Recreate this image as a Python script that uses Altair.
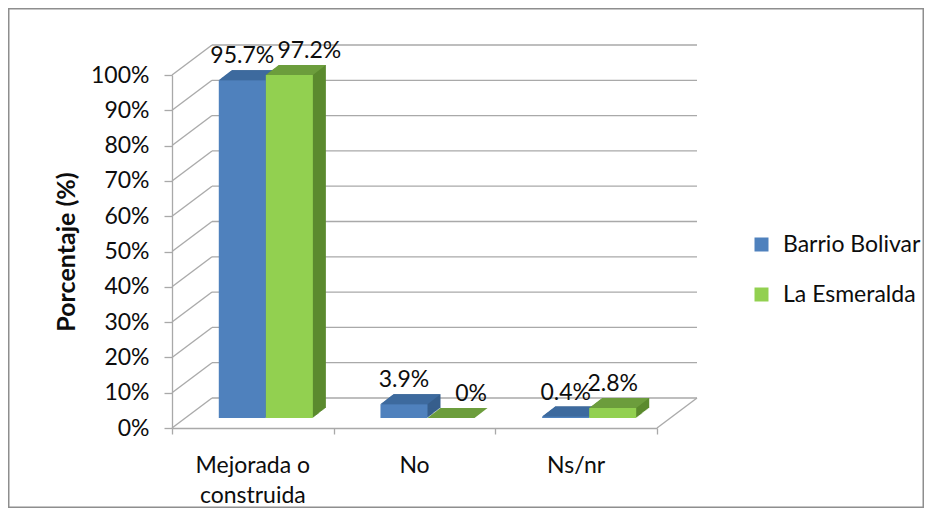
import altair as alt
import pandas as pd

# ---------------- data ----------------
categories = ["Mejorada o construida", "No", "Ns/nr"]
category_labels = ["Mejorada o\nconstruida", "No", "Ns/nr"]
series_names = ["Barrio Bolivar", "La Esmeralda"]
barrio_bolivar = [95.7, 3.9, 0.4]
la_esmeralda = [97.2, 0.0, 2.8]
y_ticks = [0, 10, 20, 30, 40, 50, 60, 70, 80, 90, 100]

rows = []
for i, cat in enumerate(categories):
    for j, vals in enumerate([barrio_bolivar, la_esmeralda]):
        v = vals[i]
        rows.append({"cat": cat, "idx": i, "series": series_names[j], "sidx": j,
                     "value": v, "label": f"{v:g}%"})
df = pd.DataFrame(rows)
grid_df = pd.DataFrame({"v": y_ticks})
cat_df = pd.DataFrame({"idx": list(range(len(categories))), "lab": category_labels})

# ---------------- style ----------------
FONT = "Lato"
FS = 23
TXT = "#0d0d0d"
GRID = "#a9a9a9"
W, H = 485, 353
DX, DY = 40, 30          # wall depth
BX, BY = 13, 10          # bar front offset and bar depth
GAP, BW = 0.209, 0.291   # fraction of category
BWPX = BW * W / 3

FRONT = {0: "#4F81BD", 1: "#92D050"}
TOP = {0: "#3D6A9E", 1: "#6C9D3C"}
SIDE = {0: "#365E8C", 1: "#5B8A2E"}

xs = alt.Scale(domain=[0, 3], nice=False, zero=False)
ys = alt.Scale(domain=[0, 100], nice=False)
cs = alt.Scale(domain=series_names, range=[FRONT[0], FRONT[1]])

x_axis = alt.Axis(values=[0, 1, 2, 3], labels=False, title=None, grid=False,
                  tickSize=6, tickColor=GRID, domainColor=GRID, domainWidth=1.3,
                  tickWidth=1.3)
y_axis = alt.Axis(values=y_ticks, labelExpr="datum.value + '%'", grid=False,
                  tickSize=8, tickColor=GRID, domainColor=GRID, domainWidth=1.3,
                  tickWidth=1.3, labelPadding=15, labelFont=FONT, labelFontSize=FS,
                  labelColor=TXT, title="Porcentaje (%)", titleFont=FONT,
                  titleFontSize=25, titleFontWeight="bold", titleColor=TXT,
                  titleX=-106, titleY=H / 2, titleAngle=-90, titleAlign="center",
                  titleBaseline="middle")

legend = alt.Legend(title=None, orient="none", legendX=578, legendY=158,
                    symbolType="square", symbolSize=196, symbolStrokeWidth=0,
                    labelFont=FONT, labelFontSize=FS, labelColor=TXT,
                    rowPadding=26, labelOffset=10, padding=0)

base = alt.Chart(df).transform_calculate(
    x1=f"datum.idx + {GAP} + {BW} * datum.sidx",
    x2=f"datum.idx + {GAP} + {BW} * (datum.sidx + 1)",
    xc=f"datum.idx + {GAP} + {BW} * (datum.sidx + 0.5)",
)


def X(field):
    return alt.X(field, scale=xs, axis=x_axis)


def Y(field):
    return alt.Y(field, scale=ys, axis=y_axis)


layers = []

# chart frame
layers.append(
    alt.Chart(alt.Data(values=[{}])).mark_rect(filled=False, color="#8e8e8e", strokeWidth=1.5)
    .encode(x=alt.value(-163.25), x2=alt.value(W + 267 - 0.75),
            y=alt.value(-66.25), y2=alt.value(H + 80 - 0.75))
)

# back wall gridlines
layers.append(
    alt.Chart(grid_df).mark_rule(color=GRID, strokeWidth=1.3, xOffset=DX, x2Offset=DX, yOffset=-DY)
    .encode(y=Y("v:Q"), x=alt.XDatum(0, scale=xs, axis=x_axis), x2=alt.X2Datum(3))
)
# side wall diagonals
layers.append(
    alt.Chart(grid_df).mark_rule(color=GRID, strokeWidth=1.3, x2Offset=DX, y2Offset=-DY)
    .encode(y=Y("v:Q"), y2=alt.Y2("v:Q"),
            x=alt.XDatum(0, scale=xs, axis=x_axis), x2=alt.X2Datum(0))
)
# floor right edge
layers.append(
    alt.Chart(alt.Data(values=[{}])).mark_rule(color=GRID, strokeWidth=1.3, x2Offset=DX, y2Offset=-DY)
    .encode(y=alt.YDatum(0, scale=ys, axis=y_axis), y2=alt.Y2Datum(0),
            x=alt.XDatum(3, scale=xs, axis=x_axis), x2=alt.X2Datum(3))
)

top_path = f"M0,0 L{BWPX:.2f},0 L{BWPX + BX:.2f},{-BY} L{BX},{-BY} Z"

for s in (0, 1):
    sb = base.transform_filter(f"datum.sidx == {s}")
    # side / depth sweep
    for k in range(1, BX + 1):
        oy = -BY - k * BY / BX
        layers.append(
            sb.mark_rect(color=SIDE[s], xOffset=BX + k, x2Offset=BX + k, yOffset=oy, y2Offset=oy)
            .encode(x=X("x1:Q"), x2="x2:Q", y=Y("value:Q"), y2=alt.Y2Datum(0))
        )
    # top face
    layers.append(
        sb.mark_point(shape=top_path, size=4, filled=True, opacity=1, color=TOP[s],
                      strokeWidth=0, xOffset=BX, yOffset=-BY)
        .encode(x=X("x1:Q"), y=Y("value:Q"))
    )
    # front face
    layers.append(
        sb.mark_rect(xOffset=BX, x2Offset=BX, yOffset=-BY, y2Offset=-BY)
        .encode(x=X("x1:Q"), x2="x2:Q", y=Y("value:Q"), y2=alt.Y2Datum(0),
                color=alt.Color("series:N", scale=cs, legend=legend))
    )


# value labels
def label_layer(filt, dx):
    return (base.transform_filter(filt)
            .mark_text(font=FONT, fontSize=FS, color=TXT, baseline="middle", align="center",
                       dx=dx, dy=-2 * BY - 14)
            .encode(x=X("xc:Q"), y=Y("value:Q"), text="label:N"))


layers.append(label_layer("datum.sidx == 0", BX))
layers.append(label_layer("datum.sidx == 1 && datum.idx < 2", BX + 20))
layers.append(label_layer("datum.sidx == 1 && datum.idx == 2", BX))

# category labels
layers.append(
    alt.Chart(cat_df).transform_calculate(pos="datum.idx + 0.5")
    .mark_text(font=FONT, fontSize=FS, color=TXT, baseline="top", align="center",
               lineBreak="\n", lineHeight=30)
    .encode(x=X("pos:Q"), y=alt.value(H + 27), text="lab:N")
)

chart = alt.layer(*layers).properties(
    width=W, height=H,
    autosize=alt.AutoSizeParams(type="none"),
    padding={"left": 164, "top": 67, "right": 267, "bottom": 80},
    background="white",
).configure_view(stroke=None)

chart.save("out.html", embed_options={"renderer": "svg", "actions": False})
